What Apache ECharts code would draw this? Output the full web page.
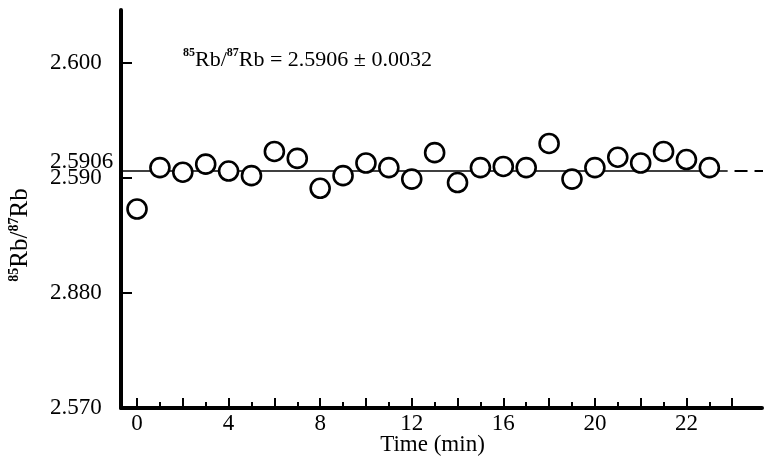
<!DOCTYPE html>
<html><head><meta charset="utf-8">
<script src="https://cdn.jsdelivr.net/npm/echarts@6/dist/echarts.min.js"></script>
<style>html,body{margin:0;padding:0;background:#fff}#c{width:773px;height:461px}</style>
</head><body><div id="c"></div>
<script>
// ---- data ----
const timeMin = [0,1,2,3,4,5,6,7,8,9,10,11,12,13,14,15,16,17,18,19,20,21,22,23,24,25];
const ratio = [2.5873,2.5909,2.5905,2.5912,2.5906,2.5902,2.5923,2.5917,2.5891,2.5902,
               2.5913,2.5909,2.5899,2.5922,2.5896,2.5909,2.5910,2.5909,2.5930,2.5899,
               2.5909,2.5918,2.5913,2.5923,2.5916,2.5909];
const meanRatio = 2.5906;
const meanSolidX = [-0.7, 25.8];
const meanDashedX = [26.1, 28.4];
const xTickValues = [0,4,8,12,16,20,24];
const xTickLabels = ['0','4','8','12','16','20','22'];
const xMajorTicks = [0,2,4,6,8,10,12,14,16,18,20,22,24,26];
const xMinorTicks = [1,3,5,7,9,11,13,15,17,19,21,23,25];
const yTickValues = [2.57, 2.58, 2.59, 2.5906, 2.60];
const yTickLabels = ['2.570','2.880','2.590','2.5906','2.600'];
const yTickMarks = [2.58, 2.59, 2.60];
const xName = 'Time (min)';
const noteText = '{s|85}{m|Rb/}{s|87}{m|Rb = 2.5906 ± 0.0032}';
const yNameText = '{s|85}{m|Rb/}{s|87}{m|Rb}';

const FONT = 'Liberation Serif';
const X_MIN = -0.7, X_MAX = 27.3, Y_MIN = 2.570, Y_MAX = 2.6046;

function lookup(vals, labels, v) {
  for (let i = 0; i < vals.length; i++) if (Math.abs(vals[i] - v) < 1e-7) return labels[i];
  return '';
}

const chart = echarts.init(document.getElementById('c'), null, {renderer: 'canvas'});
const gridRect = {left: 121, right: 11, top: 10, bottom: 53, containLabel: false, outerBoundsMode: 'none'};
const richNote = {
  s: {fontFamily: FONT, fontSize: 12, fontWeight: 'bold', color: '#000', verticalAlign: 'top', lineHeight: 24},
  m: {fontFamily: FONT, fontSize: 22, color: '#000', verticalAlign: 'bottom', lineHeight: 24}
};
const richYName = {
  s: {fontFamily: FONT, fontSize: 14, fontWeight: 'bold', color: '#000', verticalAlign: 'top', lineHeight: 26},
  m: {fontFamily: FONT, fontSize: 25, color: '#000', verticalAlign: 'bottom', lineHeight: 26}
};
const labelStyle = {fontFamily: FONT, fontSize: 23, color: '#000'};

chart.setOption({
  animation: false,
  backgroundColor: '#fff',
  grid: [Object.assign({}, gridRect), Object.assign({}, gridRect)],
  xAxis: [{
    type: 'value', gridIndex: 0, min: X_MIN, max: X_MAX,
    axisLine: {show: true, onZero: false, lineStyle: {color: '#000', width: 4}},
    axisTick: {show: true, inside: true, length: 10, customValues: xMajorTicks, lineStyle: {color: '#000', width: 2}},
    axisLabel: Object.assign({customValues: xTickValues, margin: 4,
      formatter: v => lookup(xTickValues, xTickLabels, v)}, labelStyle),
    splitLine: {show: false},
    name: xName, nameLocation: 'middle', nameGap: 25, nameMoveOverlap: false,
    nameTextStyle: Object.assign({padding: [0, 18, 0, 0]}, labelStyle)
  }, {
    type: 'value', gridIndex: 1, min: X_MIN, max: X_MAX,
    axisLine: {show: false},
    axisTick: {show: true, inside: true, length: 6, customValues: xMinorTicks, lineStyle: {color: '#000', width: 2}},
    axisLabel: {show: false},
    splitLine: {show: false}
  }],
  yAxis: [{
    type: 'value', gridIndex: 0, min: Y_MIN, max: Y_MAX,
    axisLine: {show: true, onZero: false, lineStyle: {color: '#000', width: 4}},
    axisTick: {show: true, inside: true, length: 11, customValues: yTickMarks, lineStyle: {color: '#000', width: 2}},
    axisLabel: Object.assign({customValues: yTickValues, align: 'left', margin: 71,
      formatter: v => {
        const t = lookup(yTickValues, yTickLabels, v);
        return Math.abs(v - meanRatio) < 1e-7 ? '{up|' + t + '}' : t;
      },
      rich: {up: Object.assign({padding: [0, 0, 18, 0]}, labelStyle)}
    }, labelStyle),
    splitLine: {show: false}
  }, {
    type: 'value', gridIndex: 1, min: Y_MIN, max: Y_MAX, show: false
  }],
  graphic: [{
    type: 'text', left: 183, top: 47, silent: true,
    style: {text: noteText, rich: richNote}
  }, {
    type: 'text', x: 20, y: 235, rotation: Math.PI / 2, silent: true,
    style: {text: yNameText, rich: richYName, align: 'center', verticalAlign: 'middle', textAlign: 'center', textVerticalAlign: 'middle'}
  }],
  series: [{
    type: 'line', xAxisIndex: 0, yAxisIndex: 0, symbol: 'none', silent: true, z: 1,
    data: meanSolidX.map(x => [x, meanRatio]),
    lineStyle: {color: '#000', width: 1.5}
  }, {
    type: 'line', xAxisIndex: 0, yAxisIndex: 0, symbol: 'none', silent: true, clip: false, z: 1,
    data: meanDashedX.map(x => [x, meanRatio]),
    lineStyle: {color: '#000', width: 2, type: [13, 7]}
  }, {
    type: 'scatter', xAxisIndex: 0, yAxisIndex: 0, z: 3,
    data: timeMin.map((t, i) => [t, ratio[i]]),
    symbol: 'circle', symbolSize: 19,
    itemStyle: {color: '#fff', borderColor: '#000', borderWidth: 2.6, opacity: 1}
  }]
});
</script></body></html>
